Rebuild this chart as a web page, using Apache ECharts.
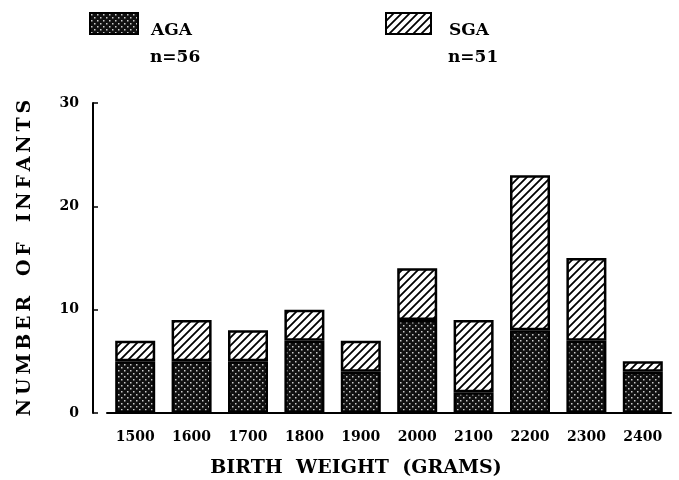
<!DOCTYPE html>
<html>
<head>
<meta charset="utf-8">
<script src="https://cdn.jsdelivr.net/npm/echarts@6/dist/echarts.min.js"></script>
<style>
  html, body { margin: 0; padding: 0; background: #fff; }
  #chart { width: 679px; height: 480px; }
</style>
</head>
<body>
<div id="chart"></div>
<script>
// birth weight bins (grams)
var categories = ['1500', '1600', '1700', '1800', '1900', '2000', '2100', '2200', '2300', '2400']
var agaCounts = [5, 5, 5, 7, 4, 9, 2, 8, 7, 4]
var sgaCounts = [2, 4, 3, 3, 3, 5, 7, 15, 8, 1]
var yTicks = [0, 10, 20, 30]

var FONT = 'DejaVu Serif'

// spread letters out a bit (thin spaces), the scanned figure uses wide tracking
function spaced(str) {
  return str.split('').join('\u2009')
}

// dark stipple fill for AGA
function stipple() {
  var c = document.createElement('canvas')
  c.width = 6; c.height = 6
  var ctx = c.getContext('2d')
  ctx.fillStyle = '#111'
  ctx.fillRect(0, 0, 6, 6)
  ctx.fillStyle = '#ccc'
  ctx.fillRect(1, 1, 1.5, 1.5)
  ctx.fillRect(4, 4, 1.5, 1.5)
  return c
}

// diagonal hatch for SGA
function hatch() {
  var s = 8
  var c = document.createElement('canvas')
  c.width = s; c.height = s
  var ctx = c.getContext('2d')
  ctx.fillStyle = '#fff'
  ctx.fillRect(0, 0, s, s)
  ctx.strokeStyle = '#000'
  ctx.lineWidth = 1.8
  ctx.beginPath()
  ctx.moveTo(-1, s + 1); ctx.lineTo(s + 1, -1)
  ctx.moveTo(-1, 1); ctx.lineTo(1, -1)
  ctx.moveTo(s - 1, s + 1); ctx.lineTo(s + 1, s - 1)
  ctx.stroke()
  return c
}

var myChart = echarts.init(document.getElementById('chart'))

var boldText = { fontFamily: FONT, fontWeight: 'bold', color: '#000' }

// legend label sits a little below the swatch centre
function legendText(pad) {
  return Object.assign({
    fontSize: 17,
    rich: { a: Object.assign({ fontSize: 17, padding: [15, 0, 0, pad] }, boldText) }
  }, boldText)
}

var option = {
  animation: false,
  title: [
    { text: 'n=56', left: 150, top: 49, padding: 0, textStyle: Object.assign({ fontSize: 17 }, boldText) },
    { text: 'n=51', left: 448, top: 49, padding: 0, textStyle: Object.assign({ fontSize: 17 }, boldText) }
  ],
  legend: [
    {
      data: ['AGA'], left: 89, top: 12, padding: 0, icon: 'rect', itemWidth: 48, itemHeight: 21,
      formatter: function (name) { return '{a|' + name + '}' },
      textStyle: legendText(8)
    },
    {
      data: ['SGA'], left: 385, top: 12, padding: 0, icon: 'rect', itemWidth: 45, itemHeight: 21,
      formatter: function (name) { return '{a|' + name + '}' },
      textStyle: legendText(13)
    }
  ],
  grid: { left: 107, right: 8, top: 103, bottom: 67, outerBoundsMode: 'none' },
  xAxis: {
    type: 'category',
    data: categories,
    name: 'BIRTH  WEIGHT  (GRAMS)',
    nameLocation: 'middle',
    nameGap: 46,
    nameTextStyle: Object.assign({ fontSize: 19, padding: [0, 66, 0, 0] }, boldText),
    axisLine: { lineStyle: { color: '#000', width: 2 } },
    axisTick: { show: false },
    axisLabel: Object.assign({ fontSize: 14, margin: 17, interval: 0 }, boldText)
  },
  yAxis: {
    type: 'value',
    min: yTicks[0],
    max: yTicks[yTicks.length - 1],
    interval: 10,
    offset: 14,
    name: spaced('NUMBER') + '   ' + spaced('OF') + '   ' + spaced('INFANTS'),
    nameLocation: 'middle',
    nameGap: 58,
    nameTextStyle: Object.assign({ fontSize: 19 }, boldText),
    axisLine: { show: true, lineStyle: { color: '#000', width: 2 } },
    axisTick: { show: true, inside: true, length: 5, lineStyle: { color: '#000', width: 1.5 } },
    splitLine: { show: false },
    axisLabel: Object.assign({ fontSize: 14, margin: 14 }, boldText)
  },
  series: [
    {
      name: 'AGA',
      type: 'bar',
      stack: 'total',
      barWidth: 40,
      data: agaCounts,
      itemStyle: {
        color: { image: stipple(), repeat: 'repeat' },
        borderColor: '#000',
        borderWidth: 2.5
      }
    },
    {
      name: 'SGA',
      type: 'bar',
      stack: 'total',
      barWidth: 40,
      data: sgaCounts,
      itemStyle: {
        color: { image: hatch(), repeat: 'repeat' },
        borderColor: '#000',
        borderWidth: 2.5
      }
    }
  ]
}

myChart.setOption(option)
</script>
</body>
</html>
